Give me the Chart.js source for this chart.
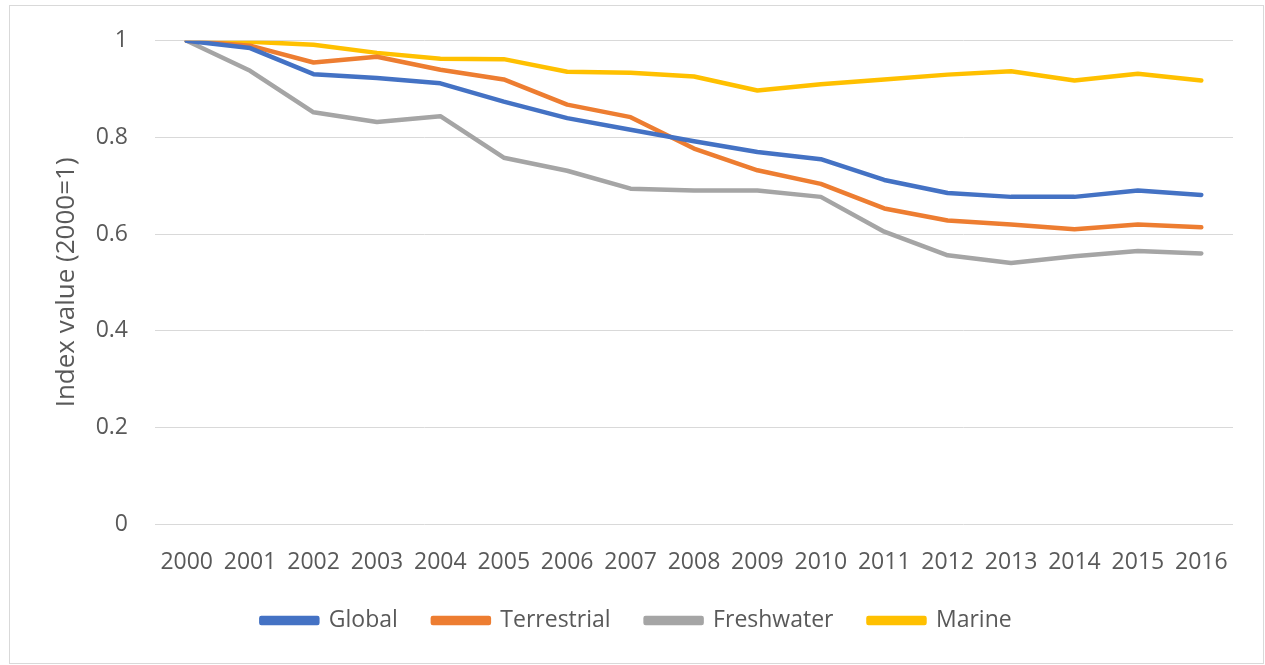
<!DOCTYPE html>
<html>
<head>
<meta charset="utf-8">
<script src="https://cdn.jsdelivr.net/npm/chart.js"></script>
<style>
  html, body { margin: 0; padding: 0; background: #fff; }
  #wrap { position: relative; width: 1265px; height: 665px; }
  #frame {
    position: absolute; left: 9px; top: 5px; width: 1253px; height: 657px;
    border: 1px solid #d9d9d9; pointer-events: none;
  }
</style>
</head>
<body>
<div id="wrap">
  <canvas id="lpiChart"></canvas>
  <div id="frame"></div>
</div>
<script>
// Index values (2000 = 1)
const years = ["2000", "2001", "2002", "2003", "2004", "2005", "2006", "2007", "2008",
  "2009", "2010", "2011", "2012", "2013", "2014", "2015", "2016"];
const globalIdx = [1.0, 0.985, 0.931, 0.923, 0.912, 0.874, 0.84, 0.816, 0.792,
  0.77, 0.755, 0.712, 0.685, 0.677, 0.677, 0.69, 0.681];
const terrestrialIdx = [1.0, 0.99, 0.955, 0.967, 0.94, 0.92, 0.868, 0.842, 0.777,
  0.732, 0.704, 0.653, 0.628, 0.62, 0.61, 0.62, 0.614];
const freshwaterIdx = [1.0, 0.938, 0.852, 0.832, 0.844, 0.758, 0.731, 0.694, 0.69,
  0.69, 0.677, 0.605, 0.556, 0.54, 0.554, 0.565, 0.56];
const marineIdx = [1.0, 0.998, 0.992, 0.975, 0.963, 0.962, 0.936, 0.934, 0.926,
  0.897, 0.91, 0.92, 0.93, 0.937, 0.918, 0.932, 0.918];

const textColor = "#595959";
Chart.defaults.font.family = "'Open Sans', sans-serif";
Chart.defaults.color = textColor;

const makeSet = (label, data, color) => ({
  label: label,
  data: data,
  borderColor: color,
  backgroundColor: color,
  borderWidth: 4.5,
  pointRadius: 0,
  tension: 0,
  borderJoinStyle: "round",
  borderCapStyle: "round",
});

// force legend height so the plot area lands where it does in the reference
const legendHeight = {
  id: "legendHeight",
  afterInit(chart) {
    const lg = chart.legend;
    if (!lg) return;
    const fit = lg.fit;
    lg.fit = function () {
      fit.call(this);
      this.height = 91;
    };
  },
};

const ctx = document.getElementById("lpiChart").getContext("2d");
new Chart(ctx, {
  type: "line",
  data: {
    labels: years,
    datasets: [
      makeSet("Global", globalIdx, "#4472C4"),
      makeSet("Terrestrial", terrestrialIdx, "#ED7D31"),
      makeSet("Freshwater", freshwaterIdx, "#A5A5A5"),
      makeSet("Marine", marineIdx, "#FFC000"),
    ],
  },
  options: {
    responsive: true,
    maintainAspectRatio: false,
    animation: false,
    layout: { padding: { top: 28, bottom: 0, left: 40, right: 32 } },
    plugins: {
      tooltip: { enabled: false },
      legend: {
        position: "bottom",
        labels: {
          boxWidth: 56,
          boxHeight: 5,
          padding: 35,
          color: textColor,
          font: { size: 23 },
        },
      },
    },
    scales: {
      x: {
        offset: true,
        grid: { display: false },
        border: { display: false },
        ticks: { color: textColor, font: { size: 23 }, padding: 17, maxRotation: 0, autoSkip: false },
        afterFit(scale) { scale.height = 50; },
      },
      y: {
        min: 0,
        max: 1,
        border: { display: false },
        grid: { color: "#d9d9d9", lineWidth: 1, drawTicks: false },
        ticks: {
          stepSize: 0.2,
          color: textColor,
          font: { size: 23 },
          padding: 27,
          callback: (v) => String(Number(v.toFixed(1))),
        },
        title: {
          display: true,
          text: "Index value (2000=1)",
          color: textColor,
          font: { size: 26 },
          padding: { top: 11, bottom: 0 },
        },
        afterFit(scale) { scale.width = 115; },
      },
    },
  },
  plugins: [legendHeight],
});
</script>
</body>
</html>
